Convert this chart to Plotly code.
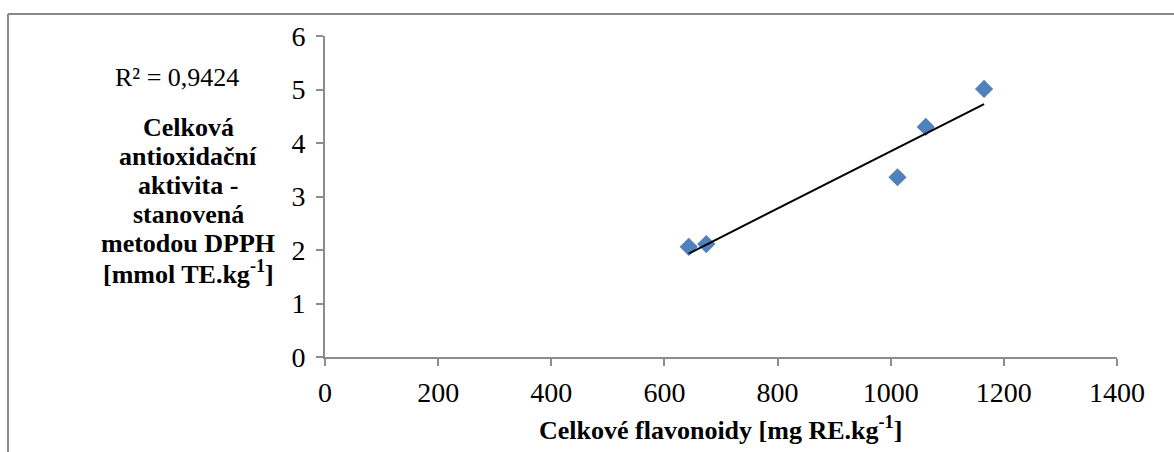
import numpy as np
import plotly.graph_objects as go

# Total flavonoids [mg RE/kg] vs. DPPH antioxidant activity [mmol TE/kg]
flavonoids = [643, 674, 1012, 1062, 1165]
antiox = [2.06, 2.11, 3.36, 4.30, 5.01]
r2_label = "R² = 0,9424"

x_ticks = [0, 200, 400, 600, 800, 1000, 1200, 1400]
y_ticks = [0, 1, 2, 3, 4, 5, 6]

x_title = "<b>Celkové flavonoidy [mg RE.kg<sup>-1</sup>]</b>"
y_title_lines = [
    "Celková",
    "antioxidační",
    "aktivita -",
    "stanovená",
    "metodou DPPH",
    "[mmol TE.kg<sup>-1</sup>]",
]

# Linear trend line across the measured range
slope, intercept = np.polyfit(flavonoids, antiox, 1)
trend_x = [min(flavonoids), max(flavonoids)]
trend_y = [slope * v + intercept for v in trend_x]

FONT = "Liberation Serif"
AXIS_GREY = "#8c8c8c"
TICK_SIZE = 28

fig = go.Figure()
fig.add_trace(go.Scatter(
    x=flavonoids, y=antiox, mode="markers",
    marker=dict(symbol="diamond", size=14, color="#4f81bd"),
    showlegend=False, hoverinfo="skip",
))
fig.add_trace(go.Scatter(
    x=trend_x, y=trend_y, mode="lines",
    line=dict(color="black", width=2),
    showlegend=False, hoverinfo="skip",
))

W, H = 1174, 452
L, R, T, B = 325, 57, 36, 95
pw, ph = W - L - R, H - T - B


def px(xp):
    return (xp - L) / pw


def py(yp):
    return (H - B - yp) / ph


annotations = [
    dict(text=r2_label, x=px(177), y=py(77), xref="paper", yref="paper",
         xanchor="center", yanchor="middle", showarrow=False,
         font=dict(family=FONT, size=26)),
    dict(text=x_title, x=px(720), y=py(428), xref="paper", yref="paper",
         xanchor="center", yanchor="middle", showarrow=False,
         font=dict(family=FONT, size=26)),
]
for i, line in enumerate(y_title_lines):
    annotations.append(dict(
        text=f"<b>{line}</b>", x=px(188), y=py(127.5 + 29 * i),
        xref="paper", yref="paper", xanchor="center", yanchor="middle",
        showarrow=False, font=dict(family=FONT, size=26),
    ))

fig.update_layout(
    width=W, height=H,
    margin=dict(l=L, r=R, t=T, b=B),
    plot_bgcolor="white", paper_bgcolor="white",
    font=dict(family=FONT, size=TICK_SIZE, color="black"),
    xaxis=dict(
        range=[0, 1400], tickvals=x_ticks, ticktext=[str(v) for v in x_ticks],
        showgrid=False, zeroline=False, showline=True, linecolor=AXIS_GREY, linewidth=2,
        ticks="outside", ticklen=7, tickcolor=AXIS_GREY, tickwidth=2,
        tickfont=dict(family=FONT, size=TICK_SIZE), ticklabelstandoff=2,
    ),
    yaxis=dict(
        range=[0, 6], tickvals=y_ticks, ticktext=[str(v) for v in y_ticks],
        showgrid=False, zeroline=False, showline=True, linecolor=AXIS_GREY, linewidth=2,
        ticks="outside", ticklen=7, tickcolor=AXIS_GREY, tickwidth=2,
        tickfont=dict(family=FONT, size=TICK_SIZE), ticklabelstandoff=5,
    ),
    annotations=annotations,
    shapes=[
        dict(type="line", xref="paper", yref="paper",
             x0=px(8), x1=px(W + 5), y0=py(14), y1=py(14),
             line=dict(color="#888888", width=2)),
        dict(type="line", xref="paper", yref="paper",
             x0=px(8), x1=px(8), y0=py(14), y1=py(H + 5),
             line=dict(color="#888888", width=2)),
    ],
)

fig.write_html("out.html")
